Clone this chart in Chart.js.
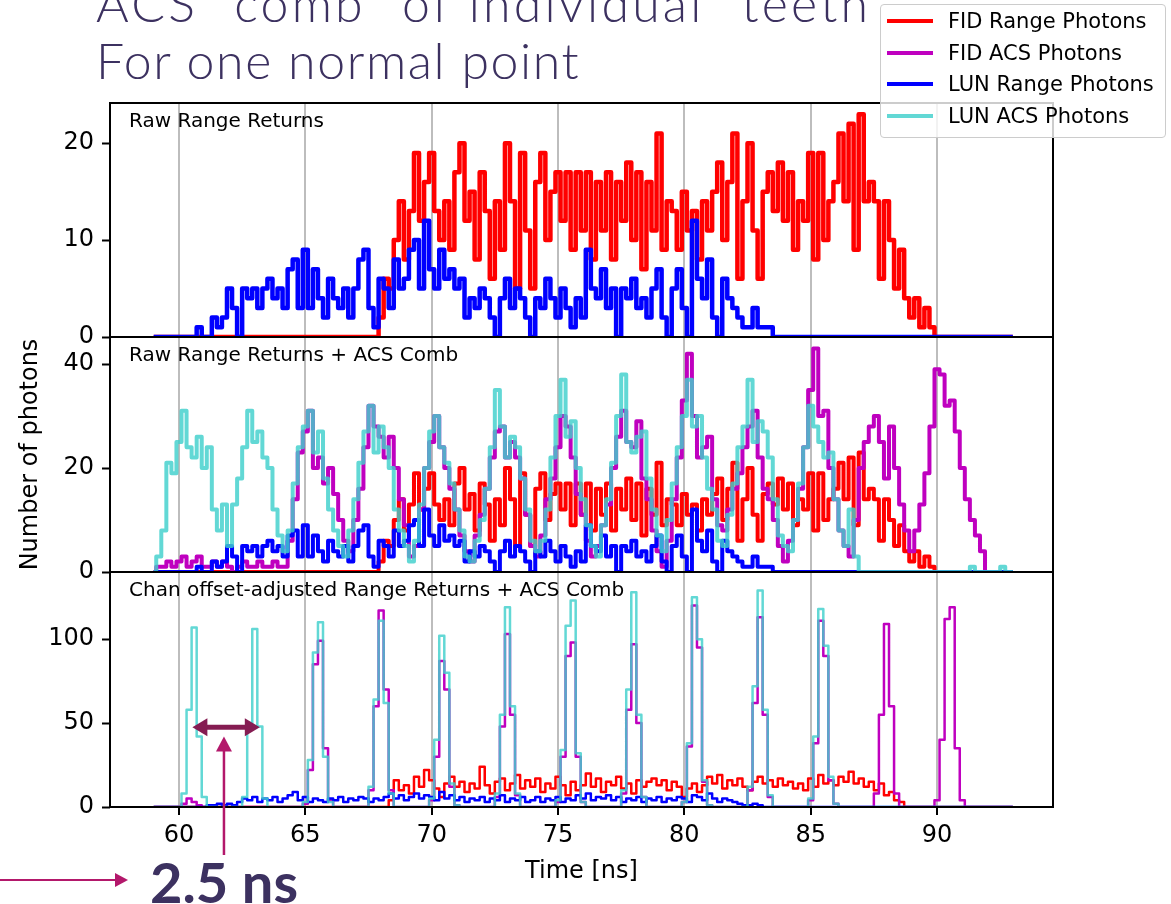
<!DOCTYPE html>
<html>
<head>
<meta charset="utf-8">
<title>ACS comb of individual teeth</title>
<script src="https://cdn.jsdelivr.net/npm/chart.js@4.4.1/dist/chart.umd.min.js"></script>
<style>
  html, body { margin: 0; padding: 0; background: #fff; }
  #page { position: relative; width: 1171px; height: 904px; overflow: hidden; background: #fff; }
  #page canvas { position: absolute; left: 0; }
  .slide-title {
    position: absolute; left: 96px; top: -25px;
    font-family: Lato, "Open Sans", sans-serif; font-weight: 300;
    font-size: 50px; line-height: 57px; color: #3c3160; white-space: nowrap;
  }
  .slide-title .l1 { letter-spacing: 3.2px; }
  .slide-title .l2 { letter-spacing: 1.6px; }
  .spacing-label {
    position: absolute; left: 150px; top: 848px;
    font-family: Lato, "Open Sans", sans-serif; font-weight: 700;
    font-size: 56px; line-height: 67px; color: #3c3160; white-space: nowrap;
  }
  #legend {
    position: absolute; left: 880px; top: 4px; width: 284px; height: 132px;
    border: 1px solid #cccccc; border-radius: 4px; background: rgba(255,255,255,0.8);
    font-family: "DejaVu Sans", sans-serif; font-size: 21px; color: #000; z-index: 5;
  }
  #legend .row { position: absolute; left: 0; height: 24px; width: 100%; }
  #legend .swatch { position: absolute; left: 6px; top: 10px; width: 46px; height: 4px; }
  #legend .text { position: absolute; left: 67px; top: 0; line-height: 24px; white-space: nowrap; }
</style>
</head>
<body>
<div id="page">
  <div class="slide-title"><span class="l1">ACS "comb" of individual "teeth"</span><br><span class="l2">For one normal point</span></div>
  <canvas id="panelRaw" width="1171" height="282" style="top:79px"></canvas>
  <canvas id="panelComb" width="1171" height="283" style="top:313px"></canvas>
  <canvas id="panelAdj" width="1171" height="349" style="top:548px"></canvas>
  <div id="legend"></div>
  <div class="spacing-label">2.5 ns</div>
</div>
<script>
// histogram bins, 0.2 ns wide, every series padded with zeros over 59-93 ns
const binWidth = 0.2;
const timeStart = 59.0;
const timeEnd = 93.0;
const xMin = 57.27;
const xMax = 94.59;

const xTicks = [60, 65, 70, 75, 80, 85, 90];
const yTicksRaw = [0, 10, 20];
const yTicksComb = [0, 20, 40];
const yTicksAdj = [0, 50, 100];

const seriesNames = ['FID Range Photons', 'FID ACS Photons', 'LUN Range Photons', 'LUN ACS Photons'];
const panelTitles = ['Raw Range Returns', 'Raw Range Returns + ACS Comb', 'Chan offset-adjusted Range Returns + ACS Comb'];

// raw range returns (top and middle panels)
const fidRangeStart = 68.0;
const fidRange = [
  2, 6, 5, 10, 14,      // 68
  8, 13, 19, 12, 16,    // 69
  19, 13, 10, 14, 9,    // 70
  17, 20, 12, 15, 8,    // 71
  17, 13, 6, 14, 9,     // 72
  20, 14, 5, 19, 11,    // 73
  5, 16, 19, 10, 15,    // 74
  17, 12, 17, 9, 17,    // 75
  11, 17, 8, 16, 11,    // 76
  17, 8, 16, 12, 18,    // 77
  10, 17, 7, 16, 11,    // 78
  21, 9, 14, 13, 9,     // 79
  15, 11, 13, 8, 14,    // 80
  11, 15, 18, 10, 16,   // 81
  21, 6, 14, 20, 11,    // 82
  6, 15, 17, 13, 18,    // 83
  12, 17, 9, 14, 12,    // 84
  19, 8, 19, 10, 14,    // 85
  16, 21, 14, 22, 9,    // 86
  23, 14, 16, 14, 6,    // 87
  14, 10, 5, 9, 4,      // 88
  2, 4, 1, 3, 1         // 89
];

const lunRangeStart = 60.8;
const lunRange = [
  1, 0, 0, 2, 1, 2,     // 60.8 - 61.8
  5, 3, 0, 5, 4,        // 62
  5, 3, 5, 6, 4,        // 63
  5, 3, 7, 8, 3,        // 64
  9, 3, 7, 4, 2,        // 65
  6, 4, 3, 5, 2,        // 66
  5, 8, 9, 3, 1,        // 67
  6, 5, 3, 8, 5,        // 68
  6, 9, 10, 5, 12,      // 69
  7, 5, 9, 6, 7,        // 70
  5, 6, 2, 4, 3,        // 71
  5, 4, 2, 0, 4,        // 72
  6, 3, 5, 4, 2,        // 73
  0, 4, 3, 6, 4,        // 74
  2, 5, 3, 1, 4,        // 75
  2, 9, 5, 4, 7,        // 76
  3, 5, 0, 5, 4,        // 77
  6, 3, 4, 2, 5,        // 78
  7, 2, 0, 5, 7,        // 79
  3, 0, 12, 6, 4,       // 80
  8, 2, 0, 6, 4,        // 81
  3, 2, 1, 1, 3,        // 82
  1, 1, 1, 0            // 83
];

// raw ACS comb (middle panel)
const fidAcsStart = 59.0;
const fidAcs = [
  0, 1, 1, 2, 1,        // 59
  2, 3, 1, 2, 3,        // 60
  1, 1, 2, 1, 2,        // 61
  1, 0, 1, 2, 1,        // 62
  1, 2, 1, 1, 2,        // 63
  1, 1, 6, 14, 23,      // 64
  27, 31, 20, 22, 17,   // 65
  20, 15, 10, 6, 4,     // 66
  10, 16, 24, 32, 28,   // 67
  26, 22, 26, 20, 14,   // 68
  9, 3, 5, 12, 20,      // 69
  25, 30, 24, 20, 16,   // 70
  12, 7, 4, 2, 7,       // 71
  11, 16, 22, 27, 28,   // 72
  22, 25, 22, 18, 11,   // 73
  5, 3, 7, 14, 18,      // 74
  24, 30, 28, 22, 15,   // 75
  11, 6, 3, 5, 9,       // 76
  13, 20, 26, 31, 25,   // 77
  24, 29, 18, 14, 8,    // 78
  4, 1, 6, 14, 22,      // 79
  33, 42, 30, 22, 24,   // 80
  26, 14, 9, 8, 12,     // 81
  16, 19, 24, 28, 31,   // 82
  22, 16, 14, 10, 5,    // 83
  2, 6, 10, 16, 24,     // 84
  35, 43, 30, 31, 20,   // 85
  14, 8, 5, 3, 10,      // 86
  20, 25, 28, 30, 25,   // 87
  18, 28, 20, 13, 8,    // 88
  4, 8, 13, 19, 28,     // 89
  39, 38, 32, 33, 27,   // 90
  20, 14, 10, 7, 4,     // 91
  0
];

const lunAcsStart = 59.0;
const lunAcs = [
  0, 3, 8, 21, 19,      // 59
  25, 31, 24, 22, 26,   // 60
  20, 24, 12, 8, 13,    // 61
  5, 13, 18, 24, 31,    // 62
  25, 27, 22, 20, 12,   // 63
  7, 4, 8, 17, 24,      // 64
  28, 31, 23, 27, 18,   // 65
  12, 8, 5, 3, 8,       // 66
  14, 21, 27, 32, 23,   // 67
  28, 24, 20, 12, 8,    // 68
  5, 2, 6, 13, 20,      // 69
  27, 30, 24, 21, 17,   // 70
  12, 8, 3, 2, 6,       // 71
  10, 16, 24, 35, 28,   // 72
  22, 26, 24, 18, 12,   // 73
  6, 4, 6, 12, 22,      // 74
  30, 37, 26, 29, 20,   // 75
  14, 9, 5, 3, 9,       // 76
  14, 21, 30, 38, 25,   // 77
  23, 26, 27, 18, 12,   // 78
  7, 4, 10, 17, 24,     // 79
  30, 37, 28, 30, 22,   // 80
  16, 12, 6, 5, 11,     // 81
  17, 24, 28, 37, 25,   // 82
  29, 27, 22, 14, 7,    // 83
  5, 4, 10, 17, 24,     // 84
  32, 28, 25, 22, 23,   // 85
  14, 8, 5, 12, 3,      // 86
  0, 0, 0, 0, 0,        // 87
  0, 0, 0, 0, 0,        // 88
  0, 0, 0, 0, 0,        // 89
  0, 0, 0, 0, 0,        // 90
  0, 0, 1, 0, 0,        // 91
  0, 0, 0, 1, 0         // 92
];

// channel offset-adjusted returns and comb (bottom panel)
const fidRangeAdjStart = 68.4;
const fidRangeAdj = [
  4, 16, 10,            // 68.4 - 68.8
  13, 8, 18, 12, 22,    // 69
  16, 11, 6, 14, 18,    // 70
  12, 15, 9, 14, 11,    // 71
  24, 13, 8, 15, 17,    // 72
  10, 14, 19, 11, 16,   // 73
  12, 17, 9, 14, 11,    // 74
  18, 13, 7, 15, 10,    // 75
  13, 20, 12, 17, 9,    // 76
  15, 13, 18, 11, 14,   // 77
  8, 16, 12, 15, 17,    // 78
  13, 16, 10, 15, 12,   // 79
  6, 11, 14, 9, 13,     // 80
  18, 14, 19, 11, 16,   // 81
  13, 17, 12, 10, 15,   // 82
  18, 14, 16, 12, 17,   // 83
  13, 15, 11, 14, 10,   // 84
  17, 12, 19, 14, 16,   // 85
  13, 18, 15, 21, 14,   // 86
  17, 12, 15, 10, 14,   // 87
  7, 9, 4, 3, 0         // 88
];

const lunRangeAdjStart = 61.2;
const lunRangeAdj = [
  1, 1, 2, 1,           // 61.2 - 61.8
  2, 1, 3, 5, 4,        // 62
  6, 3, 5, 4, 6,        // 63
  3, 5, 7, 9, 4,        // 64
  6, 3, 5, 4, 3,        // 65
  5, 4, 6, 3, 5,        // 66
  4, 6, 5, 3, 5,        // 67
  4, 6, 8, 5, 7,        // 68
  4, 6, 8, 5, 7,        // 69
  6, 4, 9, 5, 7,        // 70
  4, 6, 3, 5, 4,        // 71
  6, 3, 5, 4, 7,        // 72
  3, 5, 4, 6, 3,        // 73
  4, 6, 3, 5, 4,        // 74
  6, 3, 5, 4, 7,        // 75
  5, 8, 4, 6, 5,        // 76
  7, 4, 6, 3, 5,        // 77
  4, 6, 3, 5, 4,        // 78
  6, 3, 5, 4, 6,        // 79
  5, 3, 7, 6, 4,        // 80
  8, 5, 3, 5, 4,        // 81
  3, 2, 1, 1, 2,        // 82
  1, 0                  // 83
];

const fidAcsAdjStart = 59.0;
const fidAcsAdj = [
  0, 0, 0, 0, 0,        // 59
  0, 2, 5, 3, 1,        // 60
  0, 0, 0, 0, 0,        // 61
  0, 0, 0, 0, 0,        // 62
  0, 0, 0, 0, 0,        // 63
  0, 0, 0, 0, 0,        // 64
  2, 22, 85, 99, 35,    // 65
  4, 0, 0, 0, 0,        // 66
  0, 0, 0, 10, 60,      // 67
  117, 70, 10, 0, 0,    // 68
  0, 0, 0, 0, 0,        // 69
  4, 30, 87, 70, 12,    // 70
  1, 0, 0, 0, 0,        // 71
  0, 0, 0, 6, 48,       // 72
  103, 55, 7, 0, 0,     // 73
  0, 0, 0, 0, 0,        // 74
  3, 30, 90, 98, 30,    // 75
  3, 0, 0, 0, 0,        // 76
  0, 0, 0, 8, 58,       // 77
  97, 50, 6, 0, 0,      // 78
  0, 0, 0, 0, 0,        // 79
  3, 36, 120, 95, 15,   // 80
  1, 0, 0, 0, 0,        // 81
  0, 0, 0, 10, 62,      // 82
  113, 55, 6, 0, 0,     // 83
  0, 0, 0, 0, 0,        // 84
  4, 38, 111, 90, 16,   // 85
  2, 0, 0, 0, 0,        // 86
  0, 0, 0, 8, 55,       // 87
  109, 60, 8, 0, 0,     // 88
  0, 0, 0, 0, 0,        // 89
  4, 40, 112, 119, 35,  // 90
  4
];

const lunAcsAdjStart = 59.0;
const lunAcsAdj = [
  0, 0, 0, 0, 0,        // 59
  0, 8, 58, 107, 42,    // 60
  6, 0, 0, 0, 0,        // 61
  0, 0, 0, 6, 50,       // 62
  106, 48, 5, 0, 0,     // 63
  0, 0, 0, 0, 0,        // 64
  3, 28, 92, 110, 30,   // 65
  3, 0, 0, 0, 0,        // 66
  0, 0, 0, 12, 64,      // 67
  111, 62, 8, 0, 0,     // 68
  0, 0, 0, 0, 0,        // 69
  5, 40, 102, 80, 14,   // 70
  1, 0, 0, 0, 0,        // 71
  0, 0, 0, 8, 55,       // 72
  119, 60, 8, 0, 0,     // 73
  0, 0, 0, 0, 0,        // 74
  4, 34, 108, 123, 32,  // 75
  3, 0, 0, 0, 0,        // 76
  0, 0, 0, 10, 70,      // 77
  128, 55, 6, 0, 0,     // 78
  0, 0, 0, 0, 0,        // 79
  3, 38, 125, 100, 16,  // 80
  1, 0, 0, 0, 0,        // 81
  0, 0, 0, 12, 72,      // 82
  129, 58, 7, 0, 0,     // 83
  0, 0, 0, 0, 0,        // 84
  5, 42, 118, 96, 18,   // 85
  2
];

const colors = ['#ff0000', '#bf00bf', '#0000ff', 'rgba(64, 208, 204, 0.82)'];

// turn a run of bin counts into {x, y} points on the full time grid
function toPoints(start, values) {
  const pts = [];
  const first = Math.round((start - timeStart) / binWidth);
  const n = Math.round((timeEnd - timeStart) / binWidth) + 1;
  for (let i = 0; i < n; i++) {
    const k = i - first;
    const y = (k >= 0 && k < values.length) ? values[k] : 0;
    pts.push({ x: +(timeStart + i * binWidth).toFixed(2), y: y });
  }
  return pts;
}

function makeDataset(idx, points, width) {
  return {
    label: seriesNames[idx],
    data: points,
    borderColor: colors[idx],
    backgroundColor: colors[idx],
    borderWidth: width,
    stepped: 'middle',
    pointRadius: 0,
    fill: false,
    borderJoinStyle: 'round',
    order: 4 - idx   // cyan on top, red at the bottom
  };
}

Chart.defaults.font.family = "'DejaVu Sans', sans-serif";
Chart.defaults.color = '#000';

// box around each panel plus its little caption
const framePlugin = {
  id: 'frame',
  afterDatasetsDraw(chart, args, opts) {
    const ctx = chart.ctx;
    const a = chart.chartArea;
    ctx.save();
    ctx.strokeStyle = '#000';
    ctx.lineWidth = 2;
    ctx.strokeRect(a.left, a.top, a.right - a.left, a.bottom - a.top);
    ctx.font = "20px 'DejaVu Sans', sans-serif";
    ctx.fillStyle = '#000';
    ctx.textBaseline = 'alphabetic';
    ctx.fillText(opts.text, a.left + 19, a.top + 24);
    ctx.restore();
  }
};

function arrowHead(ctx, tipX, tipY, dirX, dirY, len, half) {
  const bx = tipX - dirX * len, by = tipY - dirY * len;
  ctx.beginPath();
  ctx.moveTo(tipX, tipY);
  ctx.lineTo(bx - dirY * half, by + dirX * half);
  ctx.lineTo(bx + dirY * half, by - dirX * half);
  ctx.closePath();
  ctx.fill();
}

// the slide's arrows marking the 2.5 ns tooth spacing
const spacingArrow = { from: 60.53, to: 63.2, level: 47.5, pointerAt: 61.78, pointerTop: 42 };
const annotationPlugin = {
  id: 'spacing',
  afterDraw(chart) {
    const ctx = chart.ctx;
    const xs = chart.scales.x, ys = chart.scales.y;
    const a = chart.chartArea;
    ctx.save();
    // double arrow between two teeth
    const x1 = xs.getPixelForValue(spacingArrow.from);
    const x2 = xs.getPixelForValue(spacingArrow.to);
    const yl = ys.getPixelForValue(spacingArrow.level);
    ctx.strokeStyle = '#851c52';
    ctx.fillStyle = '#851c52';
    ctx.lineWidth = 5;
    ctx.beginPath();
    ctx.moveTo(x1 + 12, yl);
    ctx.lineTo(x2 - 12, yl);
    ctx.stroke();
    arrowHead(ctx, x1, yl, -1, 0, 15, 9);
    arrowHead(ctx, x2, yl, 1, 0, 15, 9);
    // pointer coming up from the label
    const px = xs.getPixelForValue(spacingArrow.pointerAt);
    const pt = ys.getPixelForValue(spacingArrow.pointerTop);
    ctx.strokeStyle = '#b3186b';
    ctx.fillStyle = '#b3186b';
    ctx.lineWidth = 2.5;
    ctx.beginPath();
    ctx.moveTo(px, a.bottom + 48);
    ctx.lineTo(px, pt + 12);
    ctx.stroke();
    arrowHead(ctx, px, pt, 0, -1, 15, 8);
    // arrow from the left edge towards "2.5 ns"
    const ay = a.bottom + 73;
    ctx.lineWidth = 2;
    ctx.beginPath();
    ctx.moveTo(0, ay);
    ctx.lineTo(118, ay);
    ctx.stroke();
    arrowHead(ctx, 128, ay, 1, 0, 13, 7);
    ctx.restore();
  }
};

const edgePad = 24;

function makePanel(canvasId, cfg) {
  const isBottom = !!cfg.bottom;
  return new Chart(document.getElementById(canvasId), {
    type: 'line',
    data: { datasets: cfg.datasets },
    options: {
      responsive: false,
      animation: false,
      events: [],
      layout: { padding: { left: 0, right: 118, top: edgePad, bottom: isBottom ? 0 : edgePad } },
      plugins: {
        legend: { display: false },
        tooltip: { enabled: false },
        frame: { text: cfg.caption }
      },
      scales: {
        x: {
          type: 'linear',
          min: xMin,
          max: xMax,
          afterBuildTicks: s => { s.ticks = xTicks.map(v => ({ value: v })); },
          afterFit: s => { s.height = isBottom ? 90 : 0; },
          grid: { color: '#bdbdbd', lineWidth: 2, drawTicks: isBottom, tickLength: 8, tickColor: '#000', tickWidth: 2 },
          border: { display: false },
          ticks: { display: isBottom, font: { size: 24 }, color: '#000', padding: 6, maxRotation: 0 },
          title: { display: isBottom, text: 'Time [ns]', font: { size: 24 }, color: '#000', padding: { top: 0, bottom: 11 } }
        },
        y: {
          min: 0,
          max: cfg.yMax,
          afterBuildTicks: s => { s.ticks = cfg.yTicks.map(v => ({ value: v })); },
          afterFit: s => { s.width = 110; },
          grid: { drawOnChartArea: false, drawTicks: true, tickLength: 8, tickColor: '#000', tickWidth: 2 },
          border: { display: false },
          ticks: { font: { size: 24 }, color: '#000', padding: 8 },
          title: { display: !!cfg.yTitle, text: cfg.yTitle || '', font: { size: 24 }, color: '#000', padding: { top: 16, bottom: 0 } }
        }
      }
    },
    plugins: isBottom ? [framePlugin, annotationPlugin] : [framePlugin]
  });
}

makePanel('panelRaw', {
  caption: panelTitles[0],
  yMax: 24.15,
  yTicks: yTicksRaw,
  datasets: [
    makeDataset(0, toPoints(fidRangeStart, fidRange), 4.5),
    makeDataset(2, toPoints(lunRangeStart, lunRange), 4.5)
  ]
});

makePanel('panelComb', {
  caption: panelTitles[1],
  yMax: 45.2,
  yTicks: yTicksComb,
  yTitle: 'Number of photons',
  datasets: [
    makeDataset(0, toPoints(fidRangeStart, fidRange), 4),
    makeDataset(1, toPoints(fidAcsStart, fidAcs), 4),
    makeDataset(2, toPoints(lunRangeStart, lunRange), 4),
    makeDataset(3, toPoints(lunAcsStart, lunAcs), 4)
  ]
});

makePanel('panelAdj', {
  caption: panelTitles[2],
  yMax: 140,
  yTicks: yTicksAdj,
  bottom: true,
  datasets: [
    makeDataset(0, toPoints(fidRangeAdjStart, fidRangeAdj), 2.5),
    makeDataset(1, toPoints(fidAcsAdjStart, fidAcsAdj), 2.5),
    makeDataset(2, toPoints(lunRangeAdjStart, lunRangeAdj), 2.5),
    makeDataset(3, toPoints(lunAcsAdjStart, lunAcsAdj), 2.5)
  ]
});

// legend shared by the three panels
const legend = document.getElementById('legend');
seriesNames.forEach((name, i) => {
  const row = document.createElement('div');
  row.className = 'row';
  row.style.top = (4 + 31.5 * i) + 'px';
  const sw = document.createElement('div');
  sw.className = 'swatch';
  sw.style.background = colors[i];
  const tx = document.createElement('div');
  tx.className = 'text';
  tx.textContent = name;
  row.appendChild(sw);
  row.appendChild(tx);
  legend.appendChild(row);
});
</script>
</body>
</html>
